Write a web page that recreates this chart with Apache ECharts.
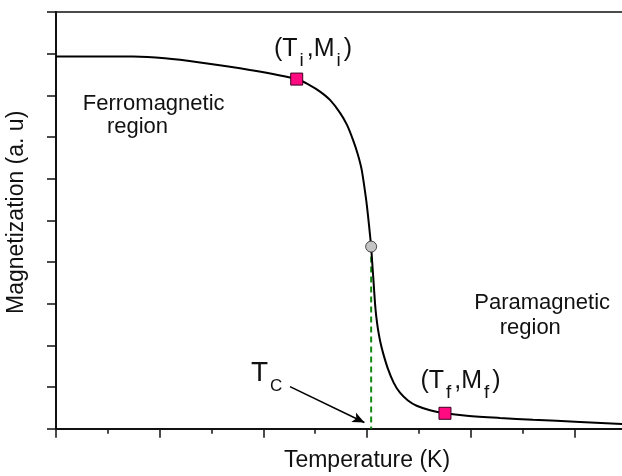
<!DOCTYPE html>
<html><head><meta charset="utf-8">
<script src="https://cdn.jsdelivr.net/npm/echarts@6/dist/echarts.min.js"></script>
<style>html,body{margin:0;padding:0;background:#fff}#c{width:622px;height:476px}</style>
</head><body><div id="c"></div>
<script>
// Magnetization curve (temperature in major-tick units, magnetization in a.u.)
const curveT = [0.0, 0.424, 0.743, 1.051, 1.389, 1.871, 2.322, 2.45, 2.547, 2.643, 2.74, 2.807, 2.865, 2.913, 2.949, 2.992, 3.012, 3.027, 3.040, 3.050, 3.062, 3.077, 3.089, 3.105, 3.127, 3.158, 3.203, 3.258, 3.318, 3.395, 3.479, 3.608, 3.752, 3.962, 4.283, 4.601, 5.054, 5.46, 5.6];
const curveM = [8.93, 8.93, 8.93, 8.89, 8.79, 8.61, 8.39, 8.24, 8.09, 7.89, 7.58, 7.29, 6.93, 6.57, 6.21, 5.49, 5.06, 4.70, 4.37, 4.00, 3.57, 3.02, 2.70, 2.40, 2.10, 1.79, 1.43, 1.10, 0.864, 0.677, 0.55, 0.444, 0.37, 0.31, 0.257, 0.216, 0.161, 0.113, 0.10];
const initialPoint = [2.322, 8.39];   // (Ti, Mi)
const finalPoint = [3.752, 0.37];     // (Tf, Mf)
const curiePoint = [3.040, 4.37];     // inflection at Tc
const arrowStart = [2.257, 1.01];
const arrowEnd = [2.975, 0.15];
const xTicks = [0, 1, 2, 3, 4, 5, 6];
const yTicks = [0, 1, 2, 3, 4, 5, 6, 7, 8, 9, 10];
const xTitle = 'Temperature (K)';
const yTitle = 'Magnetization (a. u)';

const FONT = '"Liberation Sans", Arial, sans-serif';
const chart = echarts.init(document.getElementById('c'));
const curveData = curveT.map((t, i) => [t, curveM[i]]);

chart.setOption({
  animation: false,
  backgroundColor: '#fff',
  grid: { left: 56, width: 622, top: 12, height: 416.7, containLabel: false, outerBoundsMode: 'none' },
  xAxis: [{
    type: 'value', min: xTicks[0], max: xTicks[xTicks.length - 1], interval: 1,
    position: 'bottom',
    name: xTitle, nameLocation: 'middle', nameGap: 20,
    nameTextStyle: { fontFamily: FONT, fontSize: 23, color: '#111' },
    axisLine: { show: true, onZero: false, lineStyle: { color: '#111', width: 2 } },
    axisTick: { show: true, inside: false, length: 9, lineStyle: { color: '#111', width: 1.5 } },
    minorTick: { show: true, splitNumber: 2, length: 5, lineStyle: { color: '#111', width: 1.5 } },
    axisLabel: { show: false }, splitLine: { show: false }
  }, {
    type: 'value', min: xTicks[0], max: xTicks[xTicks.length - 1], interval: 1,
    position: 'top',
    axisLine: { show: true, onZero: false, lineStyle: { color: '#111', width: 1.5 } },
    axisTick: { show: false }, axisLabel: { show: false }, splitLine: { show: false }
  }],
  yAxis: {
    type: 'value', min: yTicks[0], max: yTicks[yTicks.length - 1], interval: 1,
    name: yTitle, nameLocation: 'middle', nameGap: 28, nameRotate: 90,
    nameTextStyle: { fontFamily: FONT, fontSize: 23, color: '#111', padding: [0, 0, 0, 16] },
    axisLine: { show: true, onZero: false, lineStyle: { color: '#111', width: 2 } },
    axisTick: { show: true, inside: false, length: 9, lineStyle: { color: '#111', width: 1.5 } },
    axisLabel: { show: false }, splitLine: { show: false }
  },
  series: [
    {
      type: 'line', name: 'tc', z: 1, symbol: 'none',
      data: [curiePoint, [curiePoint[0], 0]],
      lineStyle: { color: '#138a13', width: 2, type: [6, 4] }
    },
    {
      type: 'line', name: 'M', z: 2, symbol: 'none', smooth: 0.3,
      data: curveData, lineStyle: { color: '#000', width: 2 }
    },
    {
      type: 'line', name: 'arrow', z: 3, symbol: 'none', data: [],
      markLine: {
        silent: true, symbol: ['none', 'arrow'], symbolSize: [8, 12],
        label: { show: false },
        lineStyle: { color: '#000', width: 1.6, type: 'solid' },
        data: [[{ coord: arrowStart }, { coord: arrowEnd }]]
      }
    },
    {
      type: 'scatter', name: 'ends', z: 4, symbol: 'rect', symbolSize: 12,
      data: [initialPoint, finalPoint],
      itemStyle: { color: '#ff0a80', borderColor: '#3a0020', borderWidth: 1, opacity: 1 }
    },
    {
      type: 'scatter', name: 'curie', z: 4, symbol: 'circle', symbolSize: 11,
      data: [curiePoint],
      itemStyle: { color: '#c4c4c4', borderColor: '#444', borderWidth: 1, opacity: 1 }
    },
    {
      type: 'scatter', name: 'labels', z: 5, symbolSize: 0, silent: true,
      itemStyle: { opacity: 1 },
      label: {
        show: true, position: 'inside', fontFamily: FONT, color: '#111', fontSize: 22,
        rich: {
          m: { fontFamily: FONT, fontSize: 25, lineHeight: 30, color: '#111', verticalAlign: 'top' },
          s: { fontFamily: FONT, fontSize: 19, lineHeight: 19, color: '#111', padding: [15, 3, 0, 2], verticalAlign: 'top' },
          T: { fontFamily: FONT, fontSize: 28, lineHeight: 32, color: '#111', verticalAlign: 'top' },
          c: { fontFamily: FONT, fontSize: 17, lineHeight: 17, color: '#111', padding: [18, 0, 0, 2], verticalAlign: 'top' }
        }
      },
      data: [
        { value: [0.942, 7.80], label: { formatter: 'Ferromagnetic' } },
        { value: [0.786, 7.245], label: { formatter: 'region' } },
        { value: [4.690, 3.012], label: { formatter: 'Paramagnetic' } },
        { value: [4.575, 2.429], label: { formatter: 'region' } },
        { value: [2.479, 9.05], label: { formatter: '{m|(T}{s|i}{m|,M}{s|i}{m|)}' } },
        { value: [3.902, 1.08], label: { formatter: '{m|(T}{s|f}{m|,M}{s|f}{m|)}' } },
        { value: [2.032, 1.27], label: { formatter: '{T|T}{c|C}' } }
      ]
    }
  ]
});
</script></body></html>
